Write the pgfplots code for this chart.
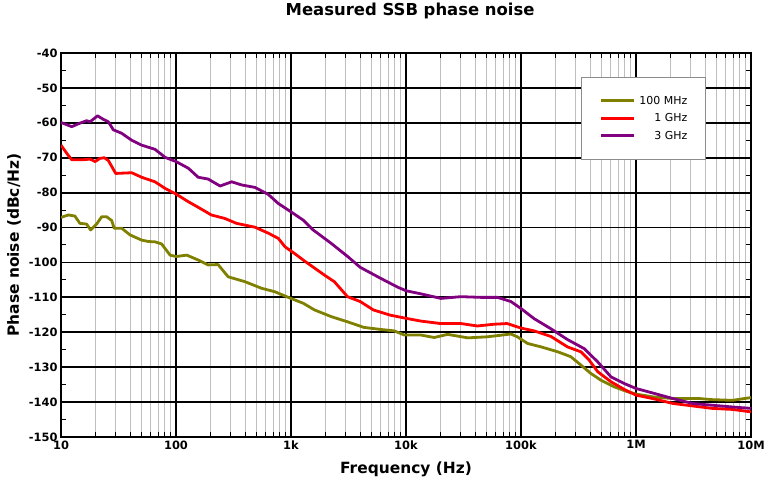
\documentclass[border=0pt]{standalone}
\usepackage{fontspec}
\setmainfont{DejaVu Sans}
\usepackage{pgfplots}
\pgfplotsset{compat=1.18}

\definecolor{olivec}{RGB}{128,128,0}
\definecolor{redc}{RGB}{255,0,0}
\definecolor{purplec}{RGB}{128,0,128}

\begin{document}
\begin{tikzpicture}
\useasboundingbox (-61bp,-51bp) rectangle (707bp,437bp);
\begin{axis}[
    scale only axis,
    width=690bp, height=384bp,
    at={(0,0)}, anchor=south west,
    xmode=log, log basis x=10,
    xmin=10, xmax=1e7,
    ymin=-150, ymax=-40,
    xtick={10,100,1000,10000,100000,1000000,10000000},
    xticklabels={10,100,1k,10k,100k,1M,10M},
    minor xtick={20,30,40,50,60,70,80,90,
        200,300,400,500,600,700,800,900,
        2000,3000,4000,5000,6000,7000,8000,9000,
        20000,30000,40000,50000,60000,70000,80000,90000,
        200000,300000,400000,500000,600000,700000,800000,900000,
        2000000,3000000,4000000,5000000,6000000,7000000,8000000,9000000},
    ytick={-150,-140,...,-40},
    minor ytick={-145,-135,...,-45},
    xmajorgrids=true, ymajorgrids=true,
    xminorgrids=true, yminorgrids=false,
    major grid style={black, line width=1.8bp},
    minor grid style={black!25, line width=1bp},
    axis line style={black, line width=1.8bp},
    tick align=inside,
    major tick length=0bp, minor tick length=5bp,
    minor tick style={black, line width=1bp},
    /pgf/number format/assume math mode=true,
    tick label style={font=\bfseries\fontsize{11.5}{13}\selectfont},
    title={Measured SSB phase noise},
    title style={font=\bfseries\fontsize{16.5}{19}\selectfont,
        at={(axis description cs:0.506,1.094)}, anchor=center},
    xlabel={Frequency (Hz)},
    xlabel style={font=\bfseries\fontsize{15.5}{18}\selectfont,
        at={(axis description cs:0.5,-0.0833)}, anchor=center},
    ylabel={Phase noise (dBc/Hz)},
    ylabel style={font=\bfseries\fontsize{15.5}{18}\selectfont,
        at={(axis description cs:-0.0681,0.5)}, anchor=center},
    legend cell align=right,
    legend image code/.code={\draw[#1, line width=2.8bp] (0bp,0bp) -- (33bp,0bp);},
    legend style={at={(axis description cs:0.754,0.9375)}, anchor=north west,
        draw=black!45, line width=0.8bp, fill=white,
        font=\fontsize{11}{13}\selectfont,
        inner xsep=18bp, inner ysep=19bp,
        row sep=8.5bp, column sep=4bp,
        nodes={inner sep=0pt, text height=8bp, text depth=1bp}},
    every axis plot/.append style={line width=2.8bp, line join=round},
]

\addplot[color=olivec] coordinates {
    (10,-87.1) (11.6,-86.4) (13.2,-86.7) (14.6,-88.8) (16.7,-89.0)
    (18.1,-90.7) (20.4,-89.0) (22.6,-86.9) (24.9,-86.9) (27.6,-88.0)
    (29.0,-90.2) (33.7,-90.2) (39.8,-92.1) (50.3,-93.6) (57.5,-94.0)
    (65.7,-94.1) (75,-94.7) (88.8,-97.9) (100,-98.3) (124,-97.9)
    (156,-99.3) (190,-100.7) (232,-100.6) (284,-104.1) (397,-105.5)
    (555,-107.4) (725,-108.4) (947,-110.0) (1280,-111.7) (1600,-113.6)
    (2230,-115.5) (3100,-117.0) (4300,-118.6) (6060,-119.2) (7900,-119.6)
    (9700,-120.8) (13500,-120.8) (17600,-121.5) (23000,-120.6) (34500,-121.6)
    (51000,-121.3) (81700,-120.5) (93000,-121.3) (114000,-123.2) (150000,-124.2)
    (209000,-125.6) (271000,-127.0) (332000,-129.4) (405000,-131.8) (494000,-133.7)
    (642000,-135.6) (838000,-137.0) (1000000,-137.7) (1400000,-138.5) (2100000,-139.0)
    (2700000,-139.0) (3600000,-139.0) (4600000,-139.3) (6900000,-139.5) (10000000,-138.7)
};
\addlegendentry{100 MHz}

\addplot[color=redc] coordinates {
    (10,-66.4) (11.2,-68.7) (12.4,-70.6) (15.1,-70.6) (17.9,-70.4)
    (19.8,-71.1) (21.8,-70.2) (23.8,-70.0) (25.8,-70.8) (29.9,-74.5)
    (41.2,-74.3) (50.3,-75.6) (65.7,-76.9) (80.5,-78.8) (100,-80.4)
    (128,-82.6) (156,-84.2) (203,-86.4) (266,-87.4) (336,-88.8)
    (486,-89.9) (634,-91.6) (775,-93.1) (886,-95.5) (1080,-97.5)
    (1300,-99.5) (1950,-103.6) (2380,-105.5) (3100,-109.8) (4000,-111.2)
    (5200,-113.6) (7300,-115.1) (10000,-116.0) (13500,-116.8) (20000,-117.5)
    (30000,-117.5) (41700,-118.2) (58000,-117.7) (75800,-117.5) (100000,-118.8)
    (130000,-119.6) (182000,-121.2) (254000,-124.2) (332000,-125.6) (392000,-128.0)
    (465000,-131.3) (607000,-134.2) (793000,-136.4) (1000000,-138.0) (1400000,-139.0)
    (2100000,-140.4) (3100000,-141.1) (4600000,-141.8) (6900000,-142.1) (10000000,-142.8)
};
\addlegendentry{1 GHz}

\addplot[color=purplec] coordinates {
    (10,-59.9) (12.4,-61.1) (14.1,-60.3) (16.7,-59.4) (17.9,-59.7)
    (20.8,-58.0) (23.3,-59.0) (25.8,-59.7) (28.5,-62.0) (33.7,-63.0)
    (41.2,-65.0) (50.3,-66.4) (65.7,-67.6) (80.5,-69.9) (100,-71.1)
    (128,-73.0) (156,-75.6) (190,-76.1) (242,-78.1) (305,-76.9)
    (372,-77.8) (486,-78.5) (634,-80.5) (775,-83.1) (1000,-85.5)
    (1280,-87.9) (1560,-90.7) (2230,-94.5) (3110,-98.3) (4000,-101.4)
    (6060,-104.6) (8490,-107.1) (10000,-108.1) (13500,-109.0) (20100,-110.3)
    (30000,-109.8) (44700,-110.0) (62500,-110.0) (81700,-111.2) (100000,-113.2)
    (130000,-116.1) (182000,-119.0) (254000,-122.1) (355000,-124.7) (465000,-128.5)
    (607000,-132.8) (793000,-134.7) (1000000,-136.1) (1400000,-137.4) (2100000,-139.0)
    (3100000,-140.4) (4600000,-140.9) (6900000,-141.4) (10000000,-141.8)
};
\addlegendentry{3 GHz}

\end{axis}
\end{tikzpicture}
\end{document}
